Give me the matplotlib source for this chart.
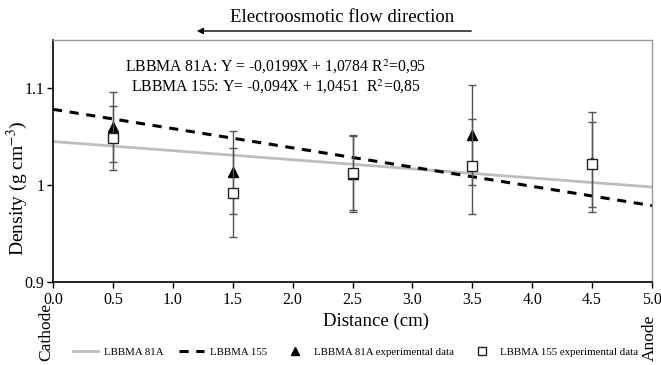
import matplotlib
matplotlib.use('Agg')
import matplotlib.pyplot as plt
import numpy as np

plt.rcParams['font.family'] = ['Liberation Serif', 'DejaVu Serif']
plt.rcParams['mathtext.fontset'] = 'stix'

# data
distance = [0.5, 1.5, 2.5, 3.5, 4.5]
density_81a = [1.060, 1.0135, 1.012, 1.052, 1.024]
err_81a = [0.036, 0.043, 0.040, 0.052, 0.052]
density_155 = [1.049, 0.992, 1.0125, 1.0195, 1.0215]
err_155 = [0.033, 0.046, 0.038, 0.049, 0.044]

# fitted trend lines (slope, intercept) as drawn
fit_81a = (-0.0094, 1.0451)
fit_155 = (-0.0199, 1.0784)

eq_81a = 'LBBMA 81A: Y = -0,0199X + 1,0784 R$^2$=0,95'
eq_155 = 'LBBMA 155: Y= -0,094X + 1,0451  R$^2$=0,85'

fig = plt.figure(figsize=(6.61, 3.65), dpi=100)
ax = fig.add_axes([0.0802, 0.2274, 0.9062, 0.663])

xs = np.array([0.0, 5.0])
line_81a, = ax.plot(xs, fit_81a[0] * xs + fit_81a[1], c='#bdbdbd', lw=2, zorder=2)
line_155, = ax.plot(xs, fit_155[0] * xs + fit_155[1], c='k', lw=2.2, ls=(0, (3, 2.5)), zorder=3)

eb_81a = ax.errorbar(distance, density_81a, yerr=err_81a, fmt='^', ms=7, mfc='k', mec='k',
                     ecolor='#555555', elinewidth=1, capsize=3, capthick=1, zorder=4)
eb_155 = ax.errorbar(distance, density_155, yerr=err_155, fmt='s', ms=7.5, mfc='white', mec='#222222',
                     mew=1, ecolor='#555555', elinewidth=1, capsize=3, capthick=1, zorder=5)

ax.set_xlim(0, 5)
ax.set_ylim(0.9, 1.15)
ax.set_xticks(np.arange(0, 5.01, 0.5))
ax.set_xticklabels([f'{v:.1f}' for v in np.arange(0, 5.01, 0.5)], fontsize=11.5)
ax.set_yticks([0.9, 1.0, 1.1])
ax.set_yticklabels(['0.9', '1', '1.1'], fontsize=11.5)
ax.tick_params(direction='out', length=4, width=1, top=False, right=False)
ax.tick_params(axis='x', pad=3)
ax.tick_params(axis='y', pad=2)

for side in ['top', 'right']:
    ax.spines[side].set_color('#9a9a9a')
    ax.spines[side].set_linewidth(1)
for side in ['left', 'bottom']:
    ax.spines[side].set_linewidth(1.2)

ax.set_xlabel('Distance (cm)', fontsize=13.5)
ax.xaxis.set_label_coords(0.539, -0.128)
ax.set_ylabel('Density (g cm$^{-3}$)', fontsize=14)
ax.yaxis.set_label_coords(-0.038, 0.388)

ax.text(0.372, 0.888, eq_81a, transform=ax.transAxes, ha='center', va='center', fontsize=11.3)
ax.text(0.372, 0.806, eq_155, transform=ax.transAxes, ha='center', va='center', fontsize=11.3)

fig.text(0.517, 0.951, 'Electroosmotic flow direction', ha='center', va='center', fontsize=13.5)
fig.add_artist(matplotlib.patches.FancyArrowPatch(
    (474 / 661, 1 - 31 / 365), (194 / 661, 1 - 31 / 365), transform=fig.transFigure,
    arrowstyle='-|>', mutation_scale=9, lw=1, color='k'))

fig.text(0.070, 0.012, 'Cathode', rotation=90, ha='center', va='bottom', fontsize=12.5)
fig.text(0.983, 0.012, 'Anode', rotation=90, ha='center', va='bottom', fontsize=12.5)

# legend shows markers only for the experimental series
handles = [line_81a, line_155, eb_81a[0], eb_155[0]]
labels = ['LBBMA 81A', 'LBBMA 155', 'LBBMA 81A experimental data', 'LBBMA 155 experimental data']
fig.legend(handles, labels, loc='center', bbox_to_anchor=(0.538, 0.036), ncol=4, frameon=False,
           fontsize=7.8, handlelength=2.3, columnspacing=1.45, handletextpad=0.55,
           markerscale=0.85)

fig.savefig('out.png', dpi=100)
